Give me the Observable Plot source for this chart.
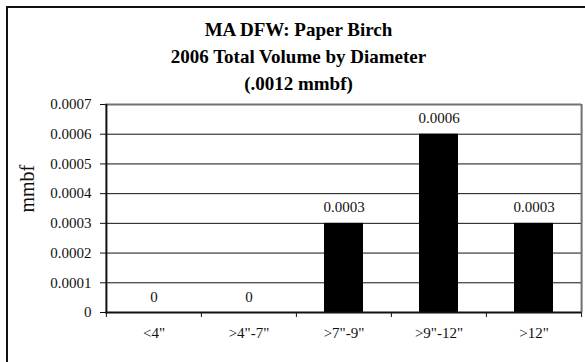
<!DOCTYPE html>
<html>
<head>
<meta charset="utf-8">
<script src="https://cdn.jsdelivr.net/npm/d3@7"></script>
<script src="https://cdn.jsdelivr.net/npm/@observablehq/plot@0.6"></script>
<style>
  html, body { margin: 0; padding: 0; background: #fff; }
  #wrap { position: relative; width: 585px; height: 362px; overflow: hidden; background: #fff; }
  #box { position: absolute; left: 6px; top: 6px; width: 620px; height: 420px; border: 2px solid #111; box-sizing: border-box; z-index: 2; pointer-events: none; }
  #title { position: absolute; left: 0; top: 16px; width: 597px; text-align: center; font: bold 19px "Liberation Serif", "Times New Roman", serif; line-height: 27px; color: #000; z-index: 3; }
  #chart { position: absolute; left: 0; top: 0; z-index: 1; }
</style>
</head>
<body>
<div id="wrap">
  <div id="box"></div>
  <div id="title"></div>
  <div id="chart"></div>
</div>
<script>
const titleLines = ["MA DFW: Paper Birch", "2006 Total Volume by Diameter", "(.0012 mmbf)"];
const categories = ['<4"', '>4"-7"', '>7"-9"', '>9"-12"', '>12"'];
const values = [0, 0, 0.0003, 0.0006, 0.0003];
const valueLabels = ["0", "0", "0.0003", "0.0006", "0.0003"];
const yTicks = [0, 0.0001, 0.0002, 0.0003, 0.0004, 0.0005, 0.0006, 0.0007];
const yLabel = ["mmbf"];

document.getElementById("title").innerHTML = titleLines.join("<br>");

const data = categories.map((c, i) => ({cat: c, value: values[i], label: valueLabels[i]}));

const W = 585, H = 362, mL = 105, mR = 4, mT = 104, mB = 50;
const half = (W - mL - mR) / categories.length / 2;
const yMax = yTicks[yTicks.length - 1];
const gridTicks = yTicks.filter(t => t > 0 && t < yMax);

const chart = Plot.plot({
  width: W,
  height: H,
  marginLeft: mL,
  marginRight: mR,
  marginTop: mT,
  marginBottom: mB,
  style: {background: "transparent", fontFamily: "'Liberation Serif', 'Times New Roman', serif", color: "#111"},
  x: {domain: categories, padding: 0, label: null},
  y: {domain: [0, yMax], label: null},
  marks: [
    Plot.ruleY(gridTicks, {stroke: "#111", strokeWidth: 1}),
    Plot.ruleY([yMax], {stroke: "#707070", strokeWidth: 2}),
    Plot.ruleX([categories[categories.length - 1]], {x: d => d, dx: half, y1: 0, y2: yMax, stroke: "#707070", strokeWidth: 2}),
    Plot.barY(data, {x: "cat", y: "value", fill: "#000", insetLeft: 28, insetRight: 28}),
    Plot.ruleX(categories, {x: d => d, dx: -half, y1: 0, y2: 0, insetBottom: -5, stroke: "#111", strokeWidth: 1}),
    Plot.ruleX([categories[categories.length - 1]], {x: d => d, dx: half, y1: 0, y2: 0, insetBottom: -5, stroke: "#111", strokeWidth: 1}),
    Plot.ruleX([categories[0]], {x: d => d, dx: -half, y1: 0, y2: yMax, stroke: "#111", strokeWidth: 2}),
    Plot.ruleY([0], {stroke: "#111", strokeWidth: 2}),
    Plot.axisY({ticks: yTicks, tickSize: 5, tickPadding: 9, fontSize: 15, tickFormat: d => d === 0 ? "0" : d.toFixed(4), label: null}),
    Plot.axisX({tickSize: 0, tickPadding: 15, fontSize: 15, label: null}),
    Plot.text(data, {x: "cat", y: "value", text: "label", dy: -11, lineAnchor: "bottom", fontSize: 15, fill: "#111"}),
    Plot.text(yLabel, {text: d => d, frameAnchor: "left", dx: -78, dy: 4, rotate: -90, fontSize: 20, fill: "#111"})
  ]
});
document.getElementById("chart").appendChild(chart);
</script>
</body>
</html>
